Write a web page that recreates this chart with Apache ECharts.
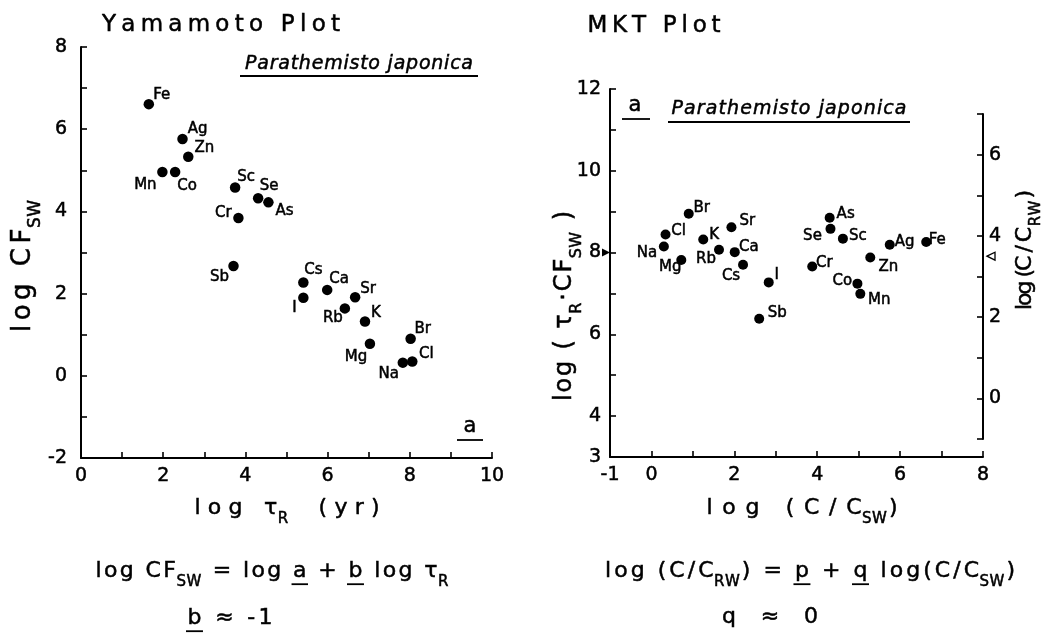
<!DOCTYPE html>
<html><head><meta charset="utf-8">
<script src="https://cdn.jsdelivr.net/npm/echarts@6/dist/echarts.min.js"></script>
<style>html,body{margin:0;padding:0;background:#fff}#c{width:1042px;height:633px}</style>
</head><body><div id="c"></div>
<script>
// ---------- Yamamoto plot data ----------
const yamaElements = ['Fe','Ag','Zn','Mn','Co','Sc','Se','As','Cr','Sb','Cs','I','Ca','Sr','Rb','K','Br','Mg','Na','Cl'];
const yamaLogTau   = [1.65,2.47,2.61,1.98,2.29,3.75,4.31,4.56,3.83,3.71,5.41,5.41,5.99,6.67,6.42,6.91,8.02,7.03,7.83,8.06];
const yamaLogCF    = [6.61,5.76,5.33,4.96,4.96,4.58,4.32,4.22,3.84,2.67,2.27,1.90,2.09,1.91,1.64,1.32,0.90,0.78,0.32,0.35];
const yamaLabelOffset = [[13,-9],[15,-10],[16,-9],[-17,13],[12,14],[11,-10],[11,-12],[16,9],[-15,-5],[-14,11],[10,-12],[-9,10],[12,-11],[13,-8],[-12,10],[11,-8],[12,-10],[-14,13],[-14,11],[14,-7]];

// ---------- MKT plot data ----------
const mktElements = ['Br','Cl','Na','Mg','K','Rb','Sr','Ca','Cs','I','Sb','As','Se','Sc','Ag','Fe','Zn','Cr','Co','Mn'];
const mktLogCCsw  = [0.90,0.34,0.30,0.72,1.25,1.63,1.93,2.01,2.21,2.83,2.60,4.30,4.32,4.62,5.75,6.63,5.28,3.88,4.97,5.04];
const mktLogTauCF = [8.95,8.44,8.15,7.82,8.32,8.07,8.62,8.01,7.70,7.27,6.38,8.85,8.58,8.34,8.19,8.26,7.88,7.66,7.24,6.99];
const mktLabelOffset = [[13,-6],[13,-3],[-17,7],[-11,7],[11,-4],[-13,9],[16,-6],[14,-5],[-12,11],[8,-7],[18,-6],[16,-4],[-18,7],[15,-3],[15,-3],[11,-2],[18,10],[12,-3],[-15,-3],[19,6]];

// reference marks (triangles) linking left and right MKT axes
const refMarkLeft  = [[-1, 8]];
const refMarkRight = [[8, 3.5]];

const FONT = 'DejaVu Sans';
const INK = {textBorderColor:'#000', textBorderWidth:0.5};
const cvs = document.createElement('canvas').getContext('2d');
function tw(t, size, italic){ cvs.font = (italic?'italic ':'') + size + 'px "' + FONT + '"'; return cvs.measureText(t).width; }

function textLine(o){
  const subSize = o.subSize || Math.round(o.size*0.66);
  const subDy = o.subDy != null ? o.subDy : (o.size*0.3 + subSize*0.3);
  const chars = [];
  o.segs.forEach((s,si)=>{ for (const ch of s.t) chars.push({ch, sub:!!s.sub, u:!!s.u, seg:si}); });
  let natural = 0, pairs = 0, small = 0;
  chars.forEach((c,i)=>{
    c.w = tw(c.ch, c.sub?subSize:o.size, o.italic); natural += c.w;
    if (i < chars.length-1){
      const n = chars[i+1];
      if (!c.sub && !n.sub) pairs++;
      else { small += (c.sub && !n.sub) ? 2 : 0.5; }
    }
  });
  const ls = o.width ? (o.width - natural - small)/Math.max(1,pairs) : (o.ls||0);
  const total = o.width || (natural + small + ls*pairs);
  let x = -total/2;
  const children = [];
  const uS = {}, uE = {};
  chars.forEach((c,i)=>{
    if (c.ch !== ' ') children.push({type:'text', x:x, y:c.sub?subDy:0, silent:true,
      style:{text:c.ch, fontSize:c.sub?subSize:o.size, fontFamily:FONT, fontStyle:o.italic?'italic':'normal', fill:'#000', stroke:'#000', lineWidth:0.5, verticalAlign:'middle', align:'left'}});
    if (c.u){ if(!(c.seg in uS)) uS[c.seg]=x; uE[c.seg]=x+c.w; }
    let gap = 0;
    if (i < chars.length-1){
      const n = chars[i+1];
      gap = (!c.sub && !n.sub) ? ls : ((c.sub && !n.sub) ? 2 : 0.5);
    }
    x += c.w + gap;
  });
  Object.keys(uS).forEach(k=>{
    const yy = o.size*0.6;
    children.push({type:'line', silent:true, shape:{x1:uS[k]-1.5, y1:yy, x2:uE[k]+1.5, y2:yy}, style:{stroke:'#000', lineWidth:1.8}});
  });
  return {type:'group', x:o.cx, y:o.cy, rotation:o.rotation||0, children};
}
function hline(x1,x2,y){ return {type:'line', silent:true, shape:{x1:x1,y1:y,x2:x2,y2:y}, style:{stroke:'#000', lineWidth:1.8}}; }

function pts(xs, ys, names, offs){
  return xs.map((x,i)=>({name:names[i], value:[x, ys[i]], label:{offset:offs[i]}}));
}

const axisBase = {
  type:'value',
  axisLine:{show:true, onZero:false, lineStyle:{color:'#000', width:2}},
  axisTick:{show:true, inside:true, length:6, lineStyle:{color:'#000', width:1.6}},
  splitLine:{show:false},
  axisLabel:Object.assign({color:'#000', fontFamily:FONT, fontSize:19}, INK)
};
function ax(extra){ return echarts.util.merge(echarts.util.clone(axisBase), extra, true); }

const labelStyle = Object.assign({show:true, position:'inside', formatter:'{b}', color:'#000', fontFamily:FONT, fontSize:15}, INK);

const option = {
  animation:false,
  backgroundColor:'#fff',
  grid:[
    {left:81, top:47, width:411, height:411, containLabel:false, outerBoundsMode:'none'},
    {left:610, top:89, width:373, height:368, containLabel:false, outerBoundsMode:'none'},
    {left:610, top:114, width:373, height:325, containLabel:false, outerBoundsMode:'none'}
  ],
  xAxis:[
    ax({gridIndex:0, min:0, max:10, interval:1, axisLabel:{margin:9, formatter:v=>(v%2===0?String(v):'')}}),
    ax({gridIndex:1, min:-1, max:8, interval:1, axisLabel:{margin:9, formatter:v=>((v===-1||v%2===0)?String(v):'')}}),
    {type:'value', gridIndex:2, min:-1, max:8, show:false}
  ],
  yAxis:[
    ax({gridIndex:0, min:-2, max:8, interval:1, axisLabel:{margin:14, formatter:v=>(v%2===0?String(v):'')}}),
    ax({gridIndex:1, min:3, max:12, interval:1, axisLabel:{margin:9, formatter:v=>((v===3||v%2===0)?String(v):'')}}),
    ax({gridIndex:2, position:'right', min:-1, max:7, interval:1, axisLabel:{margin:6, formatter:v=>((v>=0&&v%2===0)?String(v):'')}})
  ],
  series:[
    {type:'scatter', xAxisIndex:0, yAxisIndex:0, symbolSize:10.5, itemStyle:{color:'#000', opacity:1}, label:labelStyle,
     emphasis:{disabled:true}, data:pts(yamaLogTau, yamaLogCF, yamaElements, yamaLabelOffset)},
    {type:'scatter', xAxisIndex:1, yAxisIndex:1, symbolSize:10, itemStyle:{color:'#000', opacity:1}, label:labelStyle,
     emphasis:{disabled:true}, data:pts(mktLogCCsw, mktLogTauCF, mktElements, mktLabelOffset)},
    {type:'scatter', xAxisIndex:1, yAxisIndex:1, clip:false, symbol:'triangle', symbolSize:[8,8], symbolRotate:-90, symbolOffset:[-4,0],
     itemStyle:{color:'#000', opacity:1}, emphasis:{disabled:true}, data:refMarkLeft},
    {type:'scatter', xAxisIndex:2, yAxisIndex:2, clip:false, symbol:'triangle', symbolSize:[8,8], symbolRotate:90, symbolOffset:[8,0],
     itemStyle:{color:'#fff', borderColor:'#000', borderWidth:1.3, opacity:1}, emphasis:{disabled:true}, data:refMarkRight}
  ],
  graphic:[
    textLine({cx:221, cy:25, size:23, width:238, segs:[{t:'Yamamoto Plot'}]}),
    textLine({cx:654, cy:26, size:23, width:133, segs:[{t:'MKT Plot'}]}),
    textLine({cx:359, cy:64, size:19, width:228, italic:true, segs:[{t:'Parathemisto japonica'}]}),
    hline(240, 478, 76),
    textLine({cx:470, cy:427, size:21, segs:[{t:'a'}]}),
    hline(457, 483, 440),
    textLine({cx:635, cy:106, size:21, segs:[{t:'a'}]}),
    hline(622, 650, 119),
    textLine({cx:789, cy:109, size:19, width:235, italic:true, segs:[{t:'Parathemisto japonica'}]}),
    hline(668, 910, 122),
    // axis titles
    textLine({cx:287, cy:508, size:22, width:185, segs:[{t:'log '},{t:'τ'},{t:'R',sub:true},{t:'  (yr)'}]}),
    textLine({cx:802, cy:508, size:22, width:191, segs:[{t:'log (C/C'},{t:'SW',sub:true},{t:')'}]}),
    textLine({cx:23, cy:266, size:26, width:132, rotation:Math.PI/2, segs:[{t:'log CF'},{t:'SW',sub:true}]}),
    textLine({cx:565, cy:306, size:24, width:190, rotation:Math.PI/2, segs:[{t:'log ( τ'},{t:'R',sub:true},{t:'·CF'},{t:'SW',sub:true},{t:' )'}]}),
    textLine({cx:1025, cy:250, size:22, width:120, rotation:Math.PI/2, segs:[{t:'log (C / C'},{t:'RW',sub:true},{t:')'}]}),
    // formulas
    textLine({cx:272, cy:571, size:22, width:353, segs:[{t:'log CF'},{t:'SW',sub:true},{t:' = log '},{t:'a',u:true},{t:' + '},{t:'b',u:true},{t:' log τ'},{t:'R',sub:true}]}),
    textLine({cx:230, cy:618, size:22, width:85, segs:[{t:'b',u:true},{t:' ≈ -1'}]}),
    textLine({cx:810, cy:571, size:22, width:410, segs:[{t:'log (C/C'},{t:'RW',sub:true},{t:') = '},{t:'p',u:true},{t:' + '},{t:'q',u:true},{t:' log(C/C'},{t:'SW',sub:true},{t:')'}]}),
    textLine({cx:770, cy:617, size:22, width:96, segs:[{t:'q  ≈  0'}]})
  ]
};
const chart = echarts.init(document.getElementById('c'), null, {renderer:'canvas'});
chart.setOption(option);
</script>
</body></html>
